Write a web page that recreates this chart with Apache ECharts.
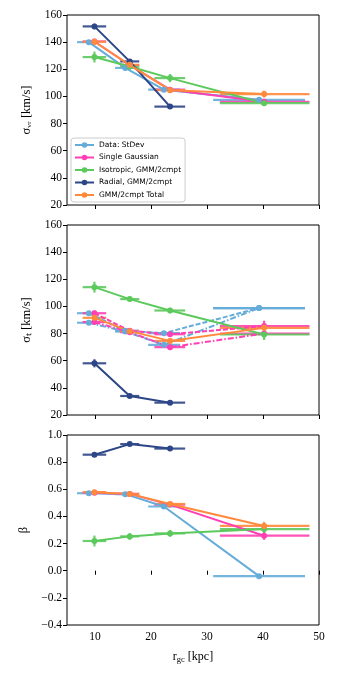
<!DOCTYPE html>
<html>
<head>
<meta charset="utf-8">
<script src="https://cdn.jsdelivr.net/npm/echarts@6/dist/echarts.min.js"></script>
<style>
html, body { margin: 0; padding: 0; background: #fff; }
#chart { width: 337px; height: 674px; }
</style>
</head>
<body>
<div id="chart"></div>
<script>
// radial bins: data (StDev) and model fits
const rStd = [8.9, 15.4, 22.3, 39.3];
const rStdLo = [6.8, 13.6, 19.5, 31.1];
const rStdHi = [10.3, 17.8, 25.2, 47.5];
const rMod = [9.9, 16.2, 23.4, 40.2];
const rModLo = [7.8, 14.5, 20.6, 32.3];
const rModHi = [12.0, 17.9, 26.1, 48.3];

// panel 1: sigma_vr
const sigR_std = [140, 121, 105, 97.5];
const sigR_stdErr = [1, 1, 1, 1];
const sigR_sg = [140.5, 123, 105, 96];
const sigR_sgErr = [2, 1.5, 1, 2];
const sigR_iso = [129, 122, 113.5, 95];
const sigR_isoErr = [4, 3, 3, 2];
const sigR_rad = [151.6, 125.8, 92.5];
const sigR_radErr = [2, 1.5, 1];
const sigR_tot = [140.3, 123.3, 104.6, 101.7];
const sigR_totErr = [2, 1.5, 1.5, 2.5];

// panel 2: sigma_t (theta dashed, phi dash-dot)
const sigT_stdA = [95, 82, 80.3, 98.8];
const sigT_stdB = [88, 81.5, 71.7, 98.8];
const sigT_stdErr = [1, 1, 1, 1];
const sigT_sgA = [95, 82, 79.5, 85.5];
const sigT_sgAErr = [2, 1, 1, 4];
const sigT_sgB = [88.5, 81, 70, 80];
const sigT_sgBErr = [2, 1, 1, 3];
const sigT_iso = [114.2, 105.4, 97, 79.3];
const sigT_isoErr = [4, 1.5, 2, 4];
const sigT_rad = [58.1, 34, 29.1];
const sigT_radErr = [3, 1, 1];
const sigT_tot = [91.6, 81.8, 74.6, 84.2];
const sigT_totErr = [2, 1, 2, 3];

// panel 3: beta
const beta_std = [0.571, 0.564, 0.473, -0.040];
const beta_stdErr = [0.005, 0.005, 0.005, 0.005];
const beta_sg = [0.575, 0.566, 0.487, 0.258];
const beta_sgErr = [0.01, 0.01, 0.01, 0.03];
const beta_iso = [0.219, 0.253, 0.275, 0.307];
const beta_isoErr = [0.04, 0.025, 0.025, 0.03];
const beta_rad = [0.855, 0.933, 0.90];
const beta_radErr = [0.01, 0.01, 0.01];
const beta_tot = [0.579, 0.566, 0.492, 0.330];
const beta_totErr = [0.01, 0.01, 0.015, 0.03];

const xTicks = [10, 20, 30, 40, 50];

const names = ['Data: StDev', 'Single Gaussian', 'Isotropic, GMM/2cmpt', 'Radial, GMM/2cmpt', 'GMM/2cmpt Total'];
const colors = ['#65acd9', '#ff3fb3', '#5cc95c', '#2c4687', '#ff8a3c'];

const serif = 'Liberation Serif';
const series = [];

function addSeries(p, k, xs, lo, hi, ys, err, dash) {
  const pts = ys.map((y, i) => [xs[i], y, lo[i], hi[i], err[i]]);
  series.push({
    name: 'eb' + p + k + (dash ? 'd' : ''),
    type: 'custom',
    xAxisIndex: p, yAxisIndex: p,
    data: pts,
    silent: true,
    renderItem: function (params, api) {
      const x = api.value(0), y = api.value(1);
      const a = api.coord([api.value(2), y]);
      const b = api.coord([api.value(3), y]);
      const c = api.coord([x, y - api.value(4)]);
      const d = api.coord([x, y + api.value(4)]);
      const st = { stroke: colors[k], lineWidth: 2.2, opacity: 0.9 };
      return {
        type: 'group',
        children: [
          { type: 'line', shape: { x1: a[0], y1: a[1], x2: b[0], y2: b[1] }, style: st },
          { type: 'line', shape: { x1: c[0], y1: c[1], x2: d[0], y2: d[1] }, style: st }
        ]
      };
    }
  });
  series.push({
    name: names[k],
    type: 'line',
    xAxisIndex: p, yAxisIndex: p,
    data: pts.map(q => [q[0], q[1]]),
    symbol: 'circle',
    symbolSize: 6,
    itemStyle: { color: colors[k] },
    lineStyle: { color: colors[k], width: 2, type: dash || 'solid' },
    silent: true
  });
}

addSeries(0, 0, rStd, rStdLo, rStdHi, sigR_std, sigR_stdErr);
addSeries(0, 1, rMod, rModLo, rModHi, sigR_sg, sigR_sgErr);
addSeries(0, 2, rMod, rModLo, rModHi, sigR_iso, sigR_isoErr);
addSeries(0, 3, rMod, rModLo, rModHi, sigR_rad, sigR_radErr);
addSeries(0, 4, rMod, rModLo, rModHi, sigR_tot, sigR_totErr);

const dashA = [5, 2];
const dashB = [6, 2, 1.5, 2];
addSeries(1, 0, rStd, rStdLo, rStdHi, sigT_stdA, sigT_stdErr, dashA);
addSeries(1, 0, rStd, rStdLo, rStdHi, sigT_stdB, sigT_stdErr, dashB);
addSeries(1, 1, rMod, rModLo, rModHi, sigT_sgA, sigT_sgAErr, dashA);
addSeries(1, 1, rMod, rModLo, rModHi, sigT_sgB, sigT_sgBErr, dashB);
addSeries(1, 2, rMod, rModLo, rModHi, sigT_iso, sigT_isoErr);
addSeries(1, 3, rMod, rModLo, rModHi, sigT_rad, sigT_radErr);
addSeries(1, 4, rMod, rModLo, rModHi, sigT_tot, sigT_totErr);

addSeries(2, 0, rStd, rStdLo, rStdHi, beta_std, beta_stdErr);
addSeries(2, 1, rMod, rModLo, rModHi, beta_sg, beta_sgErr);
addSeries(2, 2, rMod, rModLo, rModHi, beta_iso, beta_isoErr);
addSeries(2, 3, rMod, rModLo, rModHi, beta_rad, beta_radErr);
addSeries(2, 4, rMod, rModLo, rModHi, beta_tot, beta_totErr);

const tops = [15, 225, 435];
const grids = tops.map(t => ({
  left: 67, right: 18, top: t, height: 190,
  show: true, borderColor: '#000', borderWidth: 1, backgroundColor: 'transparent'
}));

const xAxes = [0, 1, 2].map(i => ({
  type: 'value', gridIndex: i, min: 5, max: 50,
  axisLine: { show: false },
  splitLine: { show: false },
  axisTick: { show: true, length: 4, inside: false, customValues: xTicks, lineStyle: { color: '#000' } },
  axisLabel: {
    show: i === 2, customValues: xTicks, color: '#000', fontFamily: serif, fontSize: 11.5, margin: 6
  },
  name: i === 2 ? 'r{s|gc} [kpc]' : '',
  nameLocation: 'middle',
  nameGap: 25,
  nameTextStyle: {
    color: '#000', fontFamily: serif, fontSize: 12,
    rich: { s: { fontFamily: serif, fontSize: 8.5, color: '#000', padding: [5, 0, 0, 0] } }
  }
}));

function yAxis(i, min, max, interval, name, fmt) {
  return {
    type: 'value', gridIndex: i, min: min, max: max, interval: interval,
    axisLine: { show: false },
    splitLine: { show: false },
    axisTick: { show: true, length: 4, lineStyle: { color: '#000' } },
    axisLabel: { color: '#000', fontFamily: serif, fontSize: 11.5, margin: 5, formatter: fmt },
    name: name,
    nameLocation: 'middle',
    nameRotate: 90,
    nameGap: 34,
    nameTextStyle: { color: '#000', fontFamily: serif, fontSize: 12.5 }
  };
}

const yAxes = [
  yAxis(0, 20, 160, 20, 'σᵥᵣ [km/s]'),
  yAxis(1, 20, 160, 20, 'σₜ [km/s]'),
  yAxis(2, -0.4, 1.0, 0.2, 'β', v => (v < -1e-9 ? '\u2212' : '') + Math.abs(v).toFixed(1))
];

const chart = echarts.init(document.getElementById('chart'), null, { renderer: 'canvas' });
chart.setOption({
  animation: false,
  backgroundColor: '#fff',
  grid: grids,
  xAxis: xAxes,
  yAxis: yAxes,
  legend: {
    data: names,
    orient: 'vertical',
    left: 71, top: 138,
    padding: [3, 4, 3, 3],
    itemWidth: 19, itemHeight: 7, itemGap: 4.5,
    borderColor: '#cccccc', borderWidth: 1, borderRadius: 3,
    backgroundColor: 'rgba(255,255,255,0.8)',
    textStyle: { fontFamily: 'DejaVu Sans', fontSize: 7.5, color: '#000', padding: [0, 0, 0, 0] },
    selectedMode: false
  },
  series: series
});
</script>
</body>
</html>
